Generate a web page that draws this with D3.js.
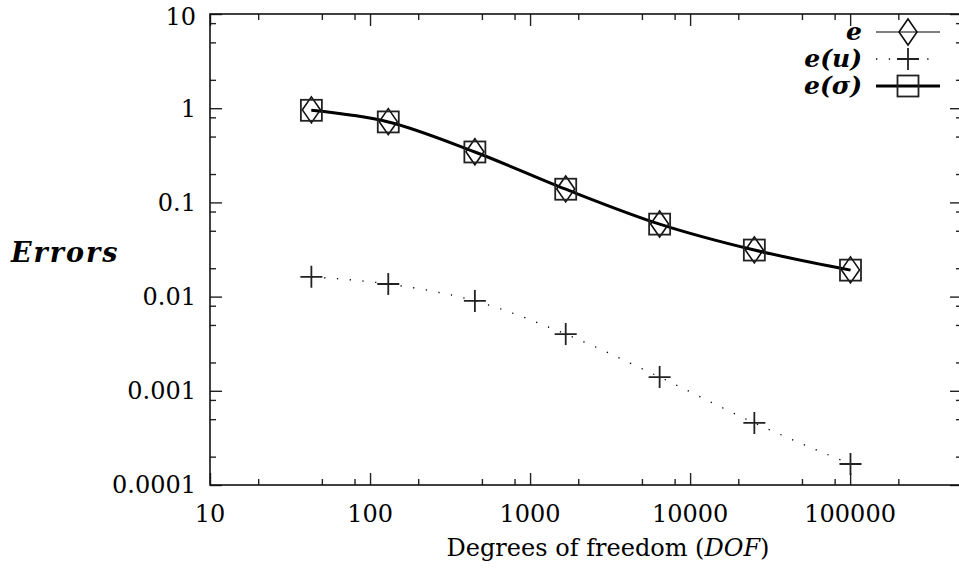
<!DOCTYPE html>
<html>
<head>
<meta charset="utf-8">
<script src="https://cdn.jsdelivr.net/npm/d3@7"></script>
<style>
  body { margin: 0; background: #fff; }
  text { font-family: "DejaVu Serif", "Liberation Serif", "Noto Serif", serif; fill: #000; }
</style>
</head>
<body>
<div id="chart"></div>
<script>
// data
var dof    = [43, 130, 452, 1670, 6450, 25200, 100500];
var errE   = [0.96, 0.72, 0.345, 0.139, 0.059, 0.0313, 0.0192];
var errU   = [0.0162, 0.0136, 0.0090, 0.0040, 0.00140, 0.000456, 0.000167];
var errSig = [0.95, 0.715, 0.343, 0.138, 0.0588, 0.0312, 0.0191];
var xTicks = [10, 100, 1000, 10000, 100000];
var yTicks = [0.0001, 0.001, 0.01, 0.1, 1, 10];
var xTickLabels = ["10", "100", "1000", "10000", "100000"];
var yTickLabels = ["0.0001", "0.001", "0.01", "0.1", "1", "10"];

// set the dimensions and margins of the graph
var W = 959, H = 573;
var margin = {top: 14, left: 210, right: -3, bottom: 88};
var width = W - margin.left - margin.right,
    height = H - margin.top - margin.bottom;

var x = d3.scaleLog().domain([10, 500000]).range([0, width]);
var y = d3.scaleLog().domain([0.0001, 10]).range([height, 0]);

var svg = d3.select("#chart").append("svg")
    .attr("width", W)
    .attr("height", H);

var g = svg.append("g")
    .attr("transform", "translate(" + margin.left + "," + margin.top + ")");

// minor ticks at 2, 5, 8 of each decade
function minors(lo, hi) {
  var out = [];
  for (var p = lo; p < hi; p++) {
    [2, 5, 8].forEach(function(m) { out.push(m * Math.pow(10, p)); });
  }
  return out;
}
var xMinor = minors(1, 6).filter(function(v) { return v < 500000; });
var yMinor = minors(-4, 1);

function styleAxis(sel) {
  sel.select(".domain").remove();
  sel.selectAll("line").attr("stroke", "#222").attr("stroke-width", 1.4);
}

// major + minor ticks on all four sides (inward)
g.append("g").attr("transform", "translate(0," + height + ")")
  .call(d3.axisBottom(x).tickValues(xTicks).tickSize(-12).tickFormat(""))
  .call(styleAxis);
g.append("g").attr("transform", "translate(0," + height + ")")
  .call(d3.axisBottom(x).tickValues(xMinor).tickSize(-6).tickFormat(""))
  .call(styleAxis);
g.append("g")
  .call(d3.axisTop(x).tickValues(xTicks).tickSize(-12).tickFormat(""))
  .call(styleAxis);
g.append("g")
  .call(d3.axisTop(x).tickValues(xMinor).tickSize(-6).tickFormat(""))
  .call(styleAxis);
g.append("g")
  .call(d3.axisLeft(y).tickValues(yTicks).tickSize(-12).tickFormat(""))
  .call(styleAxis);
g.append("g")
  .call(d3.axisLeft(y).tickValues(yMinor).tickSize(-6).tickFormat(""))
  .call(styleAxis);
g.append("g").attr("transform", "translate(" + width + ",0)")
  .call(d3.axisRight(y).tickValues(yTicks).tickSize(-12).tickFormat(""))
  .call(styleAxis);
g.append("g").attr("transform", "translate(" + width + ",0)")
  .call(d3.axisRight(y).tickValues(yMinor).tickSize(-6).tickFormat(""))
  .call(styleAxis);

// frame
g.append("rect")
  .attr("width", width).attr("height", height)
  .attr("fill", "none").attr("stroke", "#111").attr("stroke-width", 1.6);

// tick labels
g.selectAll(".xl").data(xTicks).enter().append("text")
  .attr("x", function(d) { return x(d); })
  .attr("y", height + 37)
  .attr("text-anchor", "middle")
  .style("font-size", "24px")
  .text(function(d, i) { return xTickLabels[i]; });

g.selectAll(".yl").data(yTicks).enter().append("text")
  .attr("x", -14)
  .attr("y", function(d) { return y(d); })
  .attr("dy", function(d) { return d === 10 ? "0.45em" : "0.35em"; })
  .attr("text-anchor", "end")
  .style("font-size", "24px")
  .text(function(d, i) { return yTickLabels[i]; });

// axis titles
var xt = svg.append("text")
  .attr("x", 608).attr("y", 556)
  .attr("text-anchor", "middle")
  .style("font-size", "24px");
xt.append("tspan").text("Degrees of freedom (");
xt.append("tspan").style("font-style", "italic").text("DOF");
xt.append("tspan").text(")");

svg.append("text")
  .attr("x", 11).attr("y", 262)
  .style("font-size", "27px")
  .style("font-weight", "bold")
  .style("font-style", "italic")
  .style("letter-spacing", "2px")
  .text("Errors");

// lines
var line = d3.line()
  .x(function(d) { return x(d[0]); })
  .y(function(d) { return y(d[1]); })
  .curve(d3.curveMonotoneX);

var ptsE = dof.map(function(d, i) { return [d, errE[i]]; });
var ptsU = dof.map(function(d, i) { return [d, errU[i]]; });
var ptsS = dof.map(function(d, i) { return [d, errSig[i]]; });

g.append("path").attr("d", line(ptsE))
  .attr("fill", "none").attr("stroke", "#000").attr("stroke-width", 1);
g.append("path").attr("d", line(ptsU))
  .attr("fill", "none").attr("stroke", "#000").attr("stroke-width", 1.3)
  .attr("stroke-dasharray", "1.3,11.5");
g.append("path").attr("d", line(ptsS))
  .attr("fill", "none").attr("stroke", "#000").attr("stroke-width", 3);

// markers
function diamond(sel) {
  sel.append("path")
    .attr("d", "M0,-13L9,0L0,13L-9,0Z")
    .attr("fill", "none").attr("stroke", "#111").attr("stroke-width", 1.6);
}
function plus(sel) {
  sel.append("path")
    .attr("d", "M-11,0H11M0,-11V11")
    .attr("fill", "none").attr("stroke", "#222").attr("stroke-width", 1.8);
}
function square(sel) {
  sel.append("rect")
    .attr("x", -10.5).attr("y", -10.5).attr("width", 21).attr("height", 21)
    .attr("fill", "none").attr("stroke", "#222").attr("stroke-width", 1.8);
}

g.selectAll(".mE").data(ptsE).enter().append("g")
  .attr("transform", function(d) { return "translate(" + x(d[0]) + "," + y(d[1]) + ")"; })
  .call(diamond);
g.selectAll(".mU").data(ptsU).enter().append("g")
  .attr("transform", function(d) { return "translate(" + x(d[0]) + "," + y(d[1]) + ")"; })
  .call(plus);
g.selectAll(".mS").data(ptsS).enter().append("g")
  .attr("transform", function(d) { return "translate(" + x(d[0]) + "," + y(d[1]) + ")"; })
  .call(square);

// legend
var legend = svg.append("g");
var rows = [
  {label: "e", y: 32, w: 1, dash: null, mark: diamond},
  {label: "e(u)", y: 59, w: 1.3, dash: "1.3,11.5", mark: plus},
  {label: "e(σ)", y: 86, w: 3, dash: null, mark: square}
];
rows.forEach(function(r) {
  legend.append("text")
    .attr("x", 862).attr("y", r.y).attr("dy", "0.3em")
    .attr("text-anchor", "end")
    .style("font-size", "25px")
    .style("font-weight", "bold")
    .style("font-style", "italic")
    .text(r.label);
  legend.append("line")
    .attr("x1", 876).attr("x2", 940).attr("y1", r.y).attr("y2", r.y)
    .attr("stroke", "#000").attr("stroke-width", r.w)
    .attr("stroke-dasharray", r.dash);
  legend.append("g").attr("transform", "translate(908," + r.y + ")").call(r.mark);
});
</script>
</body>
</html>
